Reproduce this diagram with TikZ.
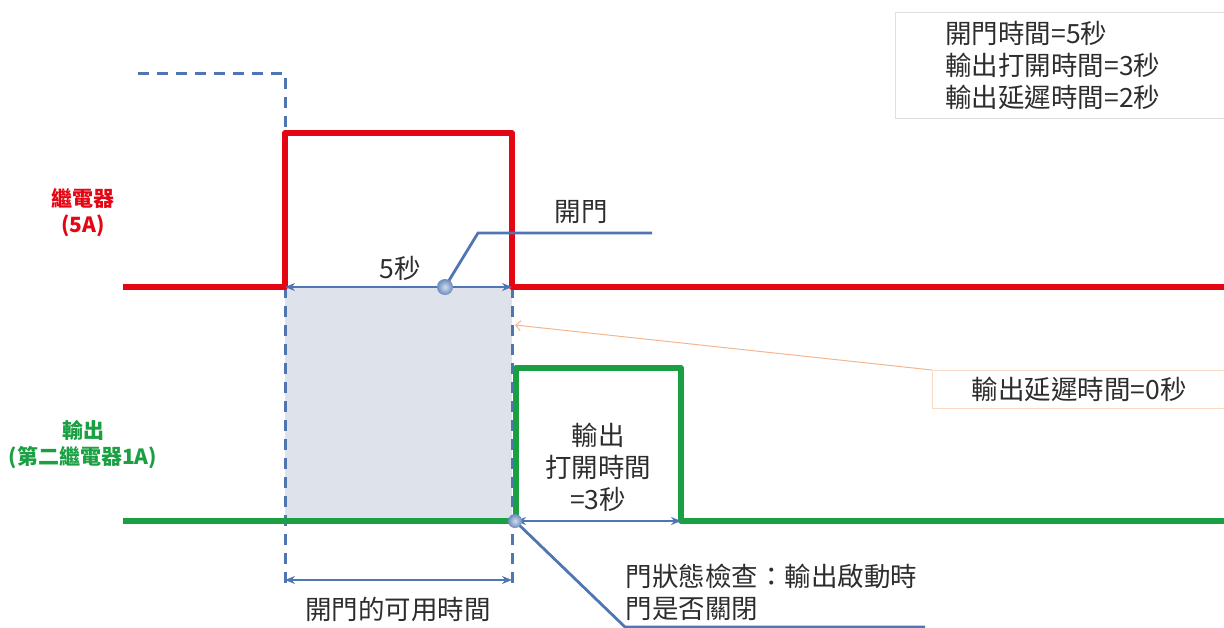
\documentclass[tikz,border=0pt]{standalone}
\usepackage{fontspec}
\setmainfont{Noto Sans CJK TC}
\usetikzlibrary{arrows.meta}
\definecolor{relayred}{RGB}{228,6,19}
\definecolor{outgreen}{RGB}{26,160,66}
\definecolor{dimblue}{RGB}{79,118,178}
\definecolor{windowfill}{RGB}{222,226,234}
\definecolor{leadorange}{RGB}{244,180,140}
\definecolor{txt}{RGB}{45,45,45}
\tikzset{
  relay/.style={relayred,line width=5.5pt},
  outsig/.style={outgreen,line width=5.5pt},
  guide/.style={dimblue,line width=3pt,dash pattern=on 11pt off 8pt},
  dim/.style={dimblue,line width=2.6pt,<->},
  lead/.style={dimblue,line width=2.8pt},
  lbl/.style={text=txt,font=\fontsize{26.5}{32}\selectfont},
  chan/.style={font=\fontsize{21}{26}\selectfont\bfseries,align=center},
  dot/.style={inner color=dimblue!25!white,outer color=dimblue!85!white},
}
\begin{document}
\begin{tikzpicture}[x=1pt,y=-1pt,>={Stealth[length=10pt,width=8pt]}]
  \useasboundingbox (0,0) rectangle (1224,627);
  % open window
  \fill[windowfill] (285,287) rectangle (512,521);
  \draw[guide] (138,73) -- (285,73) -- (285,585);
  \draw[guide] (512,287) -- (512,585);
  % signals
  \draw[relay,line join=round] (123,287) -- (285,287) -- (285,133) -- (512,133) -- (512,287) -- (1224,287);
  \draw[outsig,line join=round] (123,521) -- (516,521) -- (516,368) -- (681,368) -- (681,521) -- (1224,521);
  % channel labels
  \node[relayred,chan] (relaylbl) at (83,213) {繼電器\\(5A)};
  \node[outgreen,chan] (outlbl) at (83,445) {輸出\\(第二繼電器1A)};
  % door open time
  \coordinate (ds) at (285,287);
  \coordinate (de) at (512,287);
  \draw[dim] (ds) -- (de);
  \node[lbl] (fivesec) at (400,268) {5秒};
  \coordinate (bend) at (478,233);
  \coordinate (leadend) at (652,233);
  \draw[lead] (445,287) -- (bend) -- (leadend);
  \shade[dot] (445,287) circle (8);
  \node[lbl] (doorlbl) at (581,212) {開門};
  % output delay
  \node[lbl,draw=leadorange!50,line width=0.8pt,minimum width=294,minimum height=38,anchor=north west] (delaybox) at (932,370) {輸出延遲時間=0秒};
  \draw[leadorange,line width=1pt,->,>={Straight Barb[length=5pt]}] (delaybox.north west) -- (515,325);
  % output on time
  \coordinate (os) at (516,521);
  \coordinate (oe) at (681,521);
  \draw[dim] (os) -- (oe);
  \node[lbl,align=center] (ontime) at (598,467) {輸出\\打開時間\\=3秒};
  % door check
  \coordinate (chk) at (515,521);
  \coordinate (chkbend) at (625,627);
  \draw[lead] (chk) -- (chkbend) -- (925,627);
  \shade[dot] (chk) circle (7);
  \node[lbl,align=left,anchor=west] (chklbl) at (622,592) {門狀態檢查：輸出啟動時\\門是否關閉};
  % usable time
  \coordinate (us) at (285,580);
  \coordinate (ue) at (512,580);
  \draw[dim] (us) -- (ue);
  \node[lbl] (usable) at (398,609) {開門的可用時間};
  % parameters
  \node[lbl,draw=gray!25,line width=0.8pt,align=left,anchor=north west,minimum width=329,minimum height=106,text width=270,inner xsep=50] (params) at (895,12) {開門時間=5秒\\輸出打開時間=3秒\\輸出延遲時間=2秒};
\end{tikzpicture}
\end{document}
